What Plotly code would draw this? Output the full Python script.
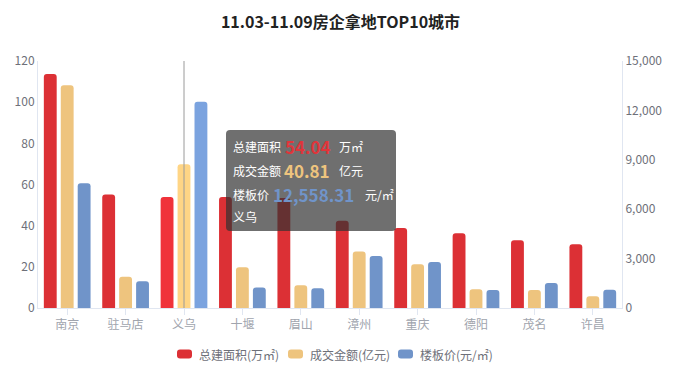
import plotly.graph_objects as go

cities = ["南京", "驻马店", "义乌", "十堰", "眉山", "漳州", "重庆", "德阳", "茂名", "许昌"]
area = [113.7, 55.1, 53.9, 53.9, 53.4, 42.4, 38.9, 36.3, 32.9, 31.0]
amount = [108.2, 15.2, 69.8, 19.8, 11.0, 27.5, 21.2, 9.1, 8.7, 5.7]
price = [7575, 1620, 12525, 1250, 1195, 3160, 2795, 1090, 1520, 1110]

names = ["总建面积(万㎡)", "成交金额(亿元)", "楼板价(元/㎡)"]
base_colors = ["#dc3035", "#eec47e", "#7094c9"]
hi_colors = ["#f0323a", "#ffd585", "#7ba3df"]
hi_idx = 2

tip_labels = ["总建面积", "成交金额", "楼板价"]
tip_values = ["54.04", "40.81", "12,558.31"]
tip_units = ["万㎡", "亿元", "元/㎡"]
tip_colors = ["#e0353a", "#eec47e", "#7094c9"]
tip_city = "义乌"

FONT = "Noto Sans CJK SC, Microsoft YaHei, sans-serif"
W, H = 681, 375
L, R, T, B = 38, 622, 61, 308

def px(x):
    return (x - L) / (R - L)

def py(y):
    return (B - y) / (B - T)

def rrect(x0, y0, x1, y1, r):
    return (f"M {px(x0+r)},{py(y0)} L {px(x1-r)},{py(y0)} Q {px(x1)},{py(y0)} {px(x1)},{py(y0+r)} "
            f"L {px(x1)},{py(y1-r)} Q {px(x1)},{py(y1)} {px(x1-r)},{py(y1)} "
            f"L {px(x0+r)},{py(y1)} Q {px(x0)},{py(y1)} {px(x0)},{py(y1-r)} "
            f"L {px(x0)},{py(y0+r)} Q {px(x0)},{py(y0)} {px(x0+r)},{py(y0)} Z")

fig = go.Figure()
series = [area, amount, price]
offsets = [-0.40, -0.11, 0.18]
for i, (vals, nm) in enumerate(zip(series, names)):
    cols = [hi_colors[i] if k == hi_idx else base_colors[i] for k in range(len(cities))]
    fig.add_trace(go.Bar(
        x=cities, y=vals, name=nm,
        marker=dict(color=cols, line=dict(width=0)),
        width=0.22, offset=offsets[i],
        yaxis="y2" if i == 2 else "y",
        hoverinfo="skip", showlegend=False,
    ))

# vertical pointer line
fig.add_shape(type="line", xref="x", yref="paper", x0=hi_idx, x1=hi_idx, y0=0, y1=1,
              line=dict(color="#9a9a9a", width=1), layer="above")

# tooltip box (rounded)
fig.add_shape(type="path", xref="paper", yref="paper", path=rrect(226, 130, 396, 231, 4),
              fillcolor="rgba(50,50,50,0.7)", line=dict(width=0), layer="above")

line_ys = [146, 170, 194]
num_x = [284, 283, 272]
unit_x = [337, 337, 363]
for k in range(3):
    yy = py(line_ys[k])
    fig.add_annotation(x=px(231), y=yy, xref="paper", yref="paper", text=tip_labels[k],
                       showarrow=False, xanchor="left", yanchor="middle",
                       font=dict(family=FONT, size=12, color="#ffffff"))
    fig.add_annotation(x=px(num_x[k]), y=yy, xref="paper", yref="paper",
                       text=f"<b>{tip_values[k]}</b>", showarrow=False,
                       xanchor="left", yanchor="middle", borderpad=0,
                       font=dict(family=FONT, size=17, color=tip_colors[k]))
    fig.add_annotation(x=px(unit_x[k]), y=yy, xref="paper", yref="paper", text=tip_units[k],
                       showarrow=False, xanchor="left", yanchor="middle",
                       font=dict(family=FONT, size=12, color="#ffffff"))
fig.add_annotation(x=px(231), y=py(216), xref="paper", yref="paper", text=tip_city,
                   showarrow=False, xanchor="left", yanchor="middle",
                   font=dict(family=FONT, size=12, color="#ffffff"))

# legend (drawn manually to match marker/text spacing)
leg_mx = [177, 288, 398]
for k in range(3):
    fig.add_shape(type="path", xref="paper", yref="paper",
                  path=rrect(leg_mx[k], 349.5, leg_mx[k] + 15, 358.5, 3),
                  fillcolor=base_colors[k], line=dict(width=0))
    fig.add_annotation(x=px(leg_mx[k] + 20), y=py(354), xref="paper", yref="paper",
                       text=names[k], showarrow=False, xanchor="left", yanchor="middle",
                       font=dict(family=FONT, size=12, color="#6e7079"))

fig.update_layout(
    width=W, height=H,
    margin=dict(l=L, r=W - R, t=T, b=H - B, autoexpand=False),
    paper_bgcolor="white", plot_bgcolor="white",
    barmode="overlay", barcornerradius=3,
    font=dict(family=FONT, size=12, color="#6e7079"),
    title=dict(text="<b>11.03-11.09房企拿地TOP10城市</b>", x=0.5, xanchor="center",
               y=1 - 22 / H, yanchor="middle",
               font=dict(family=FONT, size=16, color="#222222")),
    hovermode=False,
    showlegend=False,
    xaxis=dict(type="category", showline=True, linecolor="#e0e6f1", linewidth=1,
               ticks="outside", ticklen=6, tickcolor="#e0e6f1",
               tickfont=dict(family=FONT, size=12, color="#a0a4ad"),
               showgrid=False, zeroline=False, range=[-0.5, 9.5], automargin=False),
    yaxis=dict(range=[0, 120], dtick=20, showline=True, linecolor="#e0e6f1",
               showgrid=False, zeroline=False, ticks="", automargin=False,
               tickfont=dict(family=FONT, size=12, color="#6e7079")),
    yaxis2=dict(range=[0, 15000], dtick=3000, overlaying="y", side="right",
                showline=True, linecolor="#e0e6f1", showgrid=False, zeroline=False,
                tickformat=",d", ticks="", automargin=False,
                tickfont=dict(family=FONT, size=12, color="#6e7079")),
)

fig.write_html("out.html", config={"displayModeBar": False},
               post_script="document.body.style.margin='0';document.body.style.padding='0';")
